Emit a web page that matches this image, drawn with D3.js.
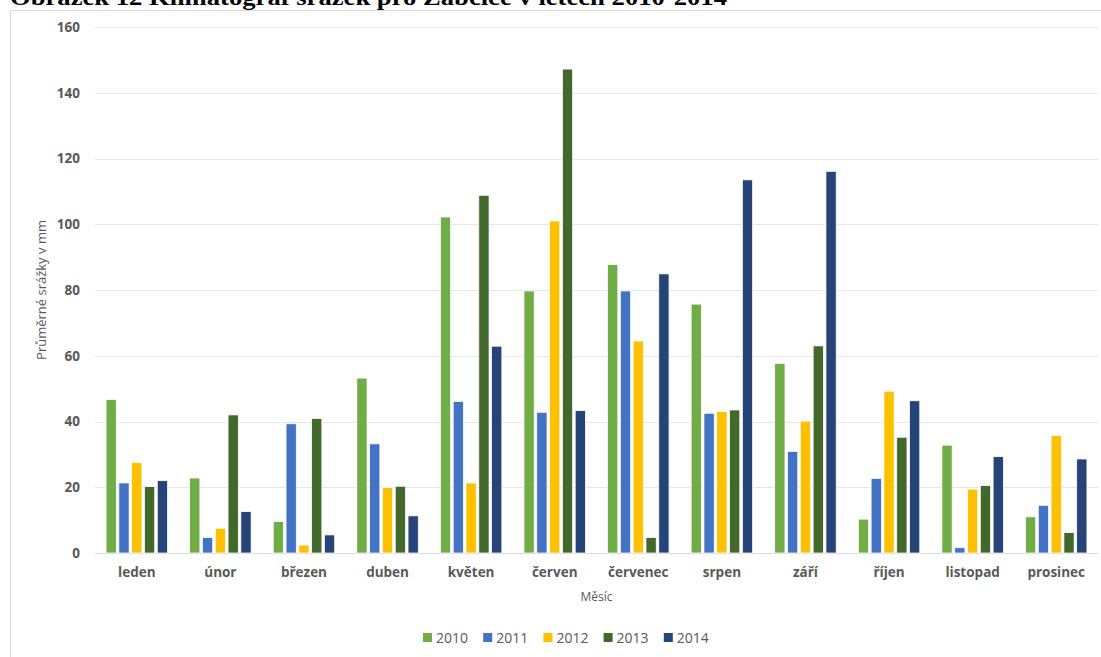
<!DOCTYPE html>
<html>
<head>
<meta charset="utf-8">
<script src="https://cdn.jsdelivr.net/npm/d3@7"></script>
<style>
  body { margin: 0; background: #fff; overflow: hidden; }
  svg { display: block; }
</style>
</head>
<body>
<div id="chart"></div>
<script>
// monthly precipitation (mm), Žabčice 2010-2014
const months = ["leden", "únor", "březen", "duben", "květen", "červen",
  "červenec", "srpen", "září", "říjen", "listopad", "prosinec"];
const years = ["2010", "2011", "2012", "2013", "2014"];
const colors = ["#70ad47", "#4472c4", "#ffc000", "#43682b", "#264478"];

const rain2010 = [46.7, 22.8, 9.6, 53.2, 102.2, 79.7, 87.7, 75.7, 57.7, 10.3, 32.8, 11.0];
const rain2011 = [21.3, 4.7, 39.3, 33.2, 46.1, 42.8, 79.7, 42.5, 30.9, 22.7, 1.6, 14.5];
const rain2012 = [27.5, 7.5, 2.4, 19.9, 21.3, 101.0, 64.5, 43.0, 40.1, 49.2, 19.4, 35.7];
const rain2013 = [20.2, 42.0, 40.9, 20.3, 108.8, 147.2, 4.7, 43.5, 63.0, 35.2, 20.5, 6.2];
const rain2014 = [22.0, 12.6, 5.5, 11.3, 62.9, 43.3, 84.9, 113.5, 116.1, 46.3, 29.3, 28.6];
const series = [rain2010, rain2011, rain2012, rain2013, rain2014];
const yTicks = [0, 20, 40, 60, 80, 100, 120, 140, 160];

const W = 1101, H = 657;
const margin = { top: 27, right: 3, bottom: 104, left: 95 };
const innerW = W - margin.left - margin.right;
const innerH = H - margin.top - margin.bottom;

const svg = d3.select("#chart").append("svg")
  .attr("width", W)
  .attr("height", H);

// chart frame: only top and left edges are inside the picture
svg.append("line")
  .attr("x1", 10.5).attr("x2", W).attr("y1", 10.5).attr("y2", 10.5)
  .attr("stroke", "#d9d9d9");
svg.append("line")
  .attr("x1", 10.5).attr("x2", 10.5).attr("y1", 10.5).attr("y2", H)
  .attr("stroke", "#d9d9d9");

// figure caption, cut by the top edge like in the source
const cap = svg.append("text")
  .attr("x", 10).attr("y", 5)
  .style("font-family", "'Liberation Serif', 'Times New Roman', serif")
  .style("font-weight", "bold")
  .style("font-size", "24px")
  .attr("fill", "#000")
  .text("Obrázek 12 Klimatograf srážek pro Žabčice v letech 2010-2014");
cap.attr("textLength", 717).attr("lengthAdjust", "spacingAndGlyphs");

const g = svg.append("g")
  .attr("transform", `translate(${margin.left},${margin.top})`);

const x0 = d3.scaleBand().domain(months).range([0, innerW])
  .paddingInner(0.234).paddingOuter(0.117);
const x1 = d3.scaleBand().domain(years).range([0, x0.bandwidth()])
  .paddingInner(0.2).paddingOuter(0.1);
const y = d3.scaleLinear().domain([0, 160]).range([innerH, 0]);

// gridlines
g.append("g")
  .selectAll("line")
  .data(yTicks)
  .join("line")
  .attr("x1", 0).attr("x2", innerW)
  .attr("y1", d => Math.round(y(d)) + 0.5)
  .attr("y2", d => Math.round(y(d)) + 0.5)
  .attr("stroke", d => d === 0 ? "#d9d9d9" : "#e6e6e6")
  .attr("stroke-width", 1);

// y tick labels
const yAxis = g.append("g")
  .call(d3.axisLeft(y).tickValues(yTicks).tickSize(0).tickPadding(15));
yAxis.select(".domain").remove();
yAxis.selectAll("text")
  .style("font-family", "'Open Sans', sans-serif")
  .style("font-weight", "bold")
  .style("font-size", "13.5px")
  .attr("fill", "#595959");

// x tick labels
const xAxis = g.append("g")
  .attr("transform", `translate(0,${innerH})`)
  .call(d3.axisBottom(x0).tickSize(0).tickPadding(14));
xAxis.select(".domain").remove();
xAxis.selectAll("text")
  .style("font-family", "'Open Sans', sans-serif")
  .style("font-weight", "bold")
  .style("font-size", "13.5px")
  .attr("fill", "#595959");

// bars
const groups = g.append("g")
  .selectAll("g")
  .data(months)
  .join("g")
  .attr("transform", d => `translate(${x0(d)},0)`);

groups.selectAll("rect")
  .data((m, i) => years.map((yr, j) => ({ yr, j, v: series[j][i] })))
  .join("rect")
  .attr("x", d => x1(d.yr))
  .attr("y", d => y(d.v))
  .attr("width", x1.bandwidth())
  .attr("height", d => innerH - y(d.v))
  .attr("fill", d => colors[d.j])
  .attr("stroke", "#fff")
  .attr("stroke-width", 0.75);

// axis titles
svg.append("text")
  .attr("transform", `translate(46,${margin.top + innerH / 2}) rotate(-90)`)
  .attr("text-anchor", "middle")
  .style("font-family", "'Open Sans', sans-serif")
  .style("font-size", "13px")
  .attr("fill", "#595959")
  .text("Průměrné srážky v mm");

svg.append("text")
  .attr("x", margin.left + innerW / 2)
  .attr("y", 601)
  .attr("text-anchor", "middle")
  .style("font-family", "'Open Sans', sans-serif")
  .style("font-size", "12px")
  .attr("fill", "#595959")
  .text("Měsíc");

// legend
const legend = svg.append("g")
  .attr("transform", "translate(423,638)");
const item = legend.selectAll("g")
  .data(years)
  .join("g")
  .attr("transform", (d, i) => `translate(${i * 60.2},0)`);
item.append("rect")
  .attr("x", 0).attr("y", -5)
  .attr("width", 9).attr("height", 9)
  .attr("fill", (d, i) => colors[i]);
item.append("text")
  .attr("x", 13).attr("y", 5)
  .style("font-family", "'Open Sans', sans-serif")
  .style("font-size", "14px")
  .attr("fill", "#595959")
  .text(d => d);
</script>
</body>
</html>
